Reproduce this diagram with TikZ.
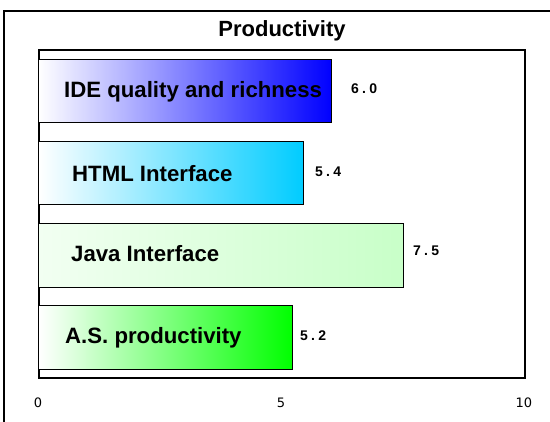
\documentclass[tikz,border=0pt]{standalone}
\usepackage{fontspec}
\setmainfont{Liberation Sans}
\newfontfamily\tickfont{DejaVu Sans}
\begin{document}
\begin{tikzpicture}[x=1pt,y=-1pt,
  frame/.style={draw=black, line width=2pt},
  plotbox/.style={draw=black, line width=2pt, inner sep=0pt, anchor=north west, minimum width=486pt, minimum height=328pt},
  barbox/.style={draw=black, line width=1.4pt, inner sep=0pt, anchor=north west, left color=white},
  barlabel/.style={font=\fontsize{22.2}{24}\selectfont\bfseries, anchor=base west, inner sep=0pt},
  vallabel/.style={font=\fontsize{14}{16}\selectfont\bfseries\addfontfeature{LetterSpace=23}, anchor=west, inner sep=0pt},
  ticklabel/.style={font=\tickfont\fontsize{13}{15}\selectfont, inner sep=0pt},
  titlelabel/.style={font=\fontsize{22}{24}\selectfont\bfseries, inner sep=0pt}]
\useasboundingbox (0,0) rectangle (550,422);
\draw[frame] (4,422) -- (4,11) -- (550,11);
\node[titlelabel] (title) at (282,31) {Productivity};
\node[plotbox] (plot) at (38,49) {};
% bars
\node[barbox, right color={rgb,255:red,0;green,0;blue,255}, minimum width=293pt, minimum height=63pt] (b1) at (38,59) {};
\node[barbox, right color={rgb,255:red,0;green,204;blue,255}, minimum width=265pt, minimum height=63pt] (b2) at (38,141) {};
\node[barbox, left color={rgb,255:red,242;green,255;blue,242}, right color={rgb,255:red,200;green,255;blue,200}, minimum width=365pt, minimum height=64pt] (b3) at (38,223) {};
\node[barbox, right color={rgb,255:red,0;green,255;blue,0}, minimum width=254pt, minimum height=64pt] (b4) at (38,305) {};
% bar labels
\node[barlabel] (l1) at (64,98) {IDE quality and richness};
\node[barlabel] (l2) at (72,181.5) {HTML Interface};
\node[barlabel] (l3) at (71,262) {Java Interface};
\node[barlabel] (l4) at (65,344) {A.S. productivity};
% value labels
\node[vallabel] (v1) at (351,89) {6.0};
\node[vallabel] (v2) at (315,172) {5.4};
\node[vallabel] (v3) at (413,251) {7.5};
\node[vallabel] (v4) at (300,336) {5.2};
% ticks
\node[ticklabel] (t0) at (38,403) {0};
\node[ticklabel] (t5) at (281,403) {5};
\node[ticklabel] (t10) at (524,403) {10};
\end{tikzpicture}
\end{document}
